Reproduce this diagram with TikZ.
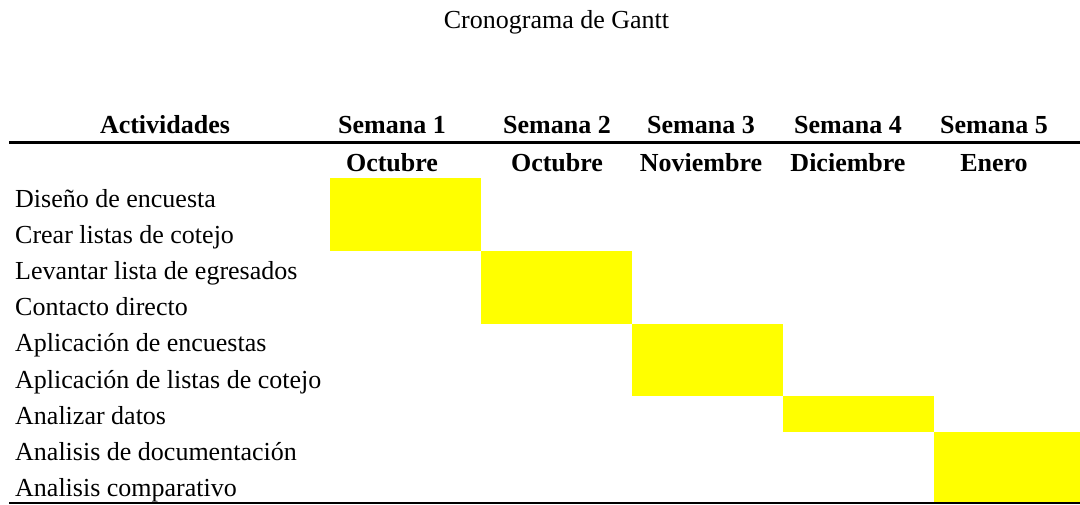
\documentclass[tikz,border=0pt]{standalone}
\usepackage{fontspec}
\setmainfont{Liberation Serif}
\definecolor{barY}{HTML}{FFFF00}
\begin{document}
\begin{tikzpicture}[x=1pt,y=-1pt,
  txt/.style={inner sep=0pt,anchor=base,font=\fontsize{26}{31}\selectfont},
  hdr/.style={txt,font=\fontsize{26}{31}\selectfont\bfseries},
  act/.style={txt,anchor=base west},
  bar/.style={fill=barY,draw=none}]
\useasboundingbox (0,0) rectangle (1080,504);
% bars
\fill[bar] (330,178) rectangle (481,251);
\fill[bar] (481,251) rectangle (632,324);
\fill[bar] (632,324) rectangle (783,396);
\fill[bar] (783,396) rectangle (934,432);
\fill[bar] (934,432) rectangle (1080,503);
% rules
\draw[line width=2.6pt] (9,142.3) -- (1080,142.3);
\draw[line width=1.6pt] (9,503) -- (1080,503);
% title
\node[txt] (title) at (556.5,28) {Cronograma de Gantt};
% header
\node[hdr] (hact) at (165,133) {Actividades};
\node[hdr] (s1) at (392,133) {Semana 1};
\node[hdr] (s2) at (557,133) {Semana 2};
\node[hdr] (s3) at (701,133) {Semana 3};
\node[hdr] (s4) at (848,133) {Semana 4};
\node[hdr] (s5) at (994,133) {Semana 5};
\node[hdr] (m1) at (392,171) {Octubre};
\node[hdr] (m2) at (557,171) {Octubre};
\node[hdr] (m3) at (701,171) {Noviembre};
\node[hdr] (m4) at (848,171) {Diciembre};
\node[hdr] (m5) at (994,171) {Enero};
% activities
\node[act] (a1) at (15,207) {Diseño de encuesta};
\node[act] (a2) at (15,243.2) {Crear listas de cotejo};
\node[act] (a3) at (15,279.4) {Levantar lista de egresados};
\node[act] (a4) at (15,315.6) {Contacto directo};
\node[act] (a5) at (15,351.8) {Aplicación de encuestas};
\node[act] (a6) at (15,388) {Aplicación de listas de cotejo};
\node[act] (a7) at (15,424.2) {Analizar datos};
\node[act] (a8) at (15,460.4) {Analisis de documentación};
\node[act] (a9) at (15,496.6) {Analisis comparativo};
\end{tikzpicture}
\end{document}
